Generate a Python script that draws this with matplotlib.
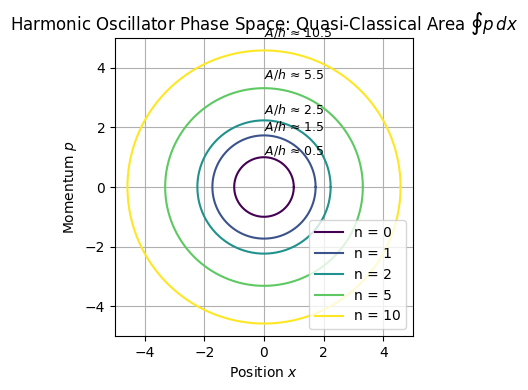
import numpy as np
import matplotlib.pyplot as plt

n_levels = [0, 1, 2, 5, 10]
radii = [np.sqrt(2 * n + 1) for n in n_levels]
area_labels = ['0.5', '1.5', '2.5', '5.5', '10.5']

fig, ax = plt.subplots(figsize=(5.28, 3.9), dpi=100)
colors = plt.cm.viridis(np.linspace(0, 1, len(n_levels)))
theta = np.linspace(0, 2 * np.pi, 400)

for n, r, lab, c in zip(n_levels, radii, area_labels, colors):
    ax.plot(r * np.cos(theta), r * np.sin(theta), color=c, label=f'n = {n}')
    ax.text(0, 1.1 * r, r'$A/h$ ≈ ' + lab, fontsize=9)

ax.set_xlim(-5, 5)
ax.set_ylim(-5, 5)
ax.set_aspect('equal')
ax.grid(True)
ax.set_xlabel('Position $x$')
ax.set_ylabel('Momentum $p$')
ax.set_title(r'Harmonic Oscillator Phase Space: Quasi-Classical Area $\oint p\,dx$')
ax.legend(loc='lower right')
ax.set_position([115 / 528, 54 / 390, 298 / 528, 298 / 390])
fig.savefig('out.png')
